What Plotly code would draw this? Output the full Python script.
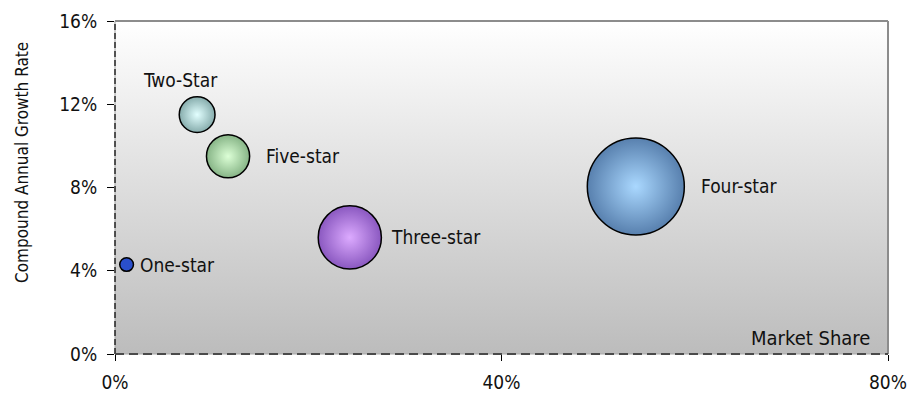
import math
import plotly.graph_objects as go

# ---------------- data ----------------
categories = ["One-star", "Two-Star", "Three-star", "Four-star", "Five-star"]
market_share = [1.2, 8.5, 24.3, 53.9, 11.7]      # % (x)
growth_rate = [4.3, 11.5, 5.6, 8.05, 9.5]        # % (y)
bubble_size = [2.0, 13.6, 42.4, 100.0, 19.8]     # relative bubble area
x_ticks = [0, 40, 80]
y_ticks = [0, 4, 8, 12, 16]
x_tick_labels = [f"{v}%" for v in x_ticks]
y_tick_labels = [f"{v}%" for v in y_ticks]
x_title = "Market Share"
y_title = "Compound Annual Growth Rate"

# ---------------- style ----------------
FONT = "DejaVu Sans Condensed, Liberation Sans Narrow, Arial Narrow, sans-serif"
FS = 19
edge_colors = ["#2a4fcc", "#86acac", "#8a58c0", "#5880ae", "#86b486"]
center_colors = ["#2a4fcc", "#e2ffff", "#dcaaff", "#aad8ff", "#dcffd6"]
max_diam = 97.0
sizeref = 2.0 * max(bubble_size) / max_diam ** 2
# label placement per point: (side, gap px)
label_side = ["right", "top", "right", "right", "right"]
label_gap = [5, 4, 8, 15, 14]
label_top_xshift = -17

W, H = 915, 394
ML, MR, MT, MB = 115, 27, 21, 40
x_range = [0, 80]
y_range = [0, 16]

fig = go.Figure()

# background gradient of plot area
fig.add_trace(go.Scatter(
    x=[x_range[0], x_range[1], x_range[1], x_range[0], x_range[0]],
    y=[y_range[0], y_range[0], y_range[1], y_range[1], y_range[0]],
    mode="none", fill="toself",
    fillgradient=dict(type="vertical", colorscale=[[0, "#bcbcbc"], [1, "#ffffff"]]),
    hoverinfo="skip", showlegend=False,
))

fig.add_trace(go.Scatter(
    x=market_share, y=growth_rate, mode="markers",
    text=categories, hoverinfo="text",
    marker=dict(
        size=bubble_size, sizemode="area", sizeref=sizeref,
        color=edge_colors,
        gradient=dict(type="radial", color=center_colors),
        line=dict(color="black", width=1.5),
        opacity=1,
    ),
    showlegend=False,
))

annotations = []
for cat, xv, yv, s, side, gap in zip(categories, market_share, growth_rate,
                                      bubble_size, label_side, label_gap):
    r = math.sqrt(s / 2.0 / sizeref)
    if side == "right":
        annotations.append(dict(x=xv, y=yv, xref="x", yref="y", text=cat,
                                showarrow=False, xanchor="left", yanchor="middle",
                                xshift=r + gap, font=dict(family=FONT, size=FS, color="#111")))
    else:
        annotations.append(dict(x=xv, y=yv, xref="x", yref="y", text=cat,
                                showarrow=False, xanchor="center", yanchor="bottom",
                                xshift=label_top_xshift, yshift=r + gap,
                                font=dict(family=FONT, size=FS, color="#111")))

annotations.append(dict(x=0.979, y=0.048, xref="paper", yref="paper", text=x_title,
                        showarrow=False, xanchor="right", yanchor="middle",
                        font=dict(family=FONT, size=FS + 1, color="#111")))
annotations.append(dict(x=(22 - ML) / (W - ML - MR), y=(H - MB - 163) / (H - MB - MT),
                        xref="paper", yref="paper", text=y_title, textangle=-90,
                        showarrow=False, xanchor="center", yanchor="middle",
                        font=dict(family=FONT, size=17, color="#111")))

shapes = [
    dict(type="line", xref="paper", yref="paper", x0=0, x1=1, y0=1, y1=1,
         line=dict(color="#8c8c8c", width=2)),
    dict(type="line", xref="paper", yref="paper", x0=1, x1=1, y0=0, y1=1,
         line=dict(color="#8c8c8c", width=2)),
    dict(type="line", xref="paper", yref="paper", x0=0, x1=0, y0=0, y1=1,
         line=dict(color="#a0a0a0", width=1)),
    dict(type="line", xref="paper", yref="paper", x0=0, x1=0, y0=0, y1=1,
         line=dict(color="black", width=1.2, dash="6px,3px")),
    dict(type="line", xref="paper", yref="paper", x0=0, x1=1, y0=0, y1=0,
         line=dict(color="#a8a8a8", width=1)),
    dict(type="line", xref="paper", yref="paper", x0=0, x1=1, y0=0, y1=0,
         line=dict(color="#4a4a4a", width=2, dash="9px,5px")),
]

fig.update_layout(
    template="none",
    width=W, height=H, autosize=False,
    margin=dict(l=ML, r=MR, t=MT, b=MB, pad=0, autoexpand=False),
    paper_bgcolor="white", plot_bgcolor="rgba(0,0,0,0)",
    font=dict(family=FONT, size=FS, color="#111"),
    xaxis=dict(range=x_range, tickmode="array", tickvals=x_ticks, ticktext=x_tick_labels,
               showgrid=False, automargin=False,
               zeroline=False, showline=False, ticks="outside", ticklen=6,
               tickcolor="black", tickwidth=1, ticklabelstandoff=5,
               tickfont=dict(family=FONT, size=FS, color="#111"), fixedrange=True),
    yaxis=dict(range=y_range, tickmode="array", tickvals=y_ticks, ticktext=y_tick_labels,
               showgrid=False, automargin=False,
               zeroline=False, showline=False, ticks="outside", ticklen=7,
               tickcolor="black", tickwidth=1, ticklabelstandoff=6,
               tickfont=dict(family=FONT, size=FS, color="#111"), fixedrange=True),
    annotations=annotations, shapes=shapes,
)

fig.write_html("out.html")
